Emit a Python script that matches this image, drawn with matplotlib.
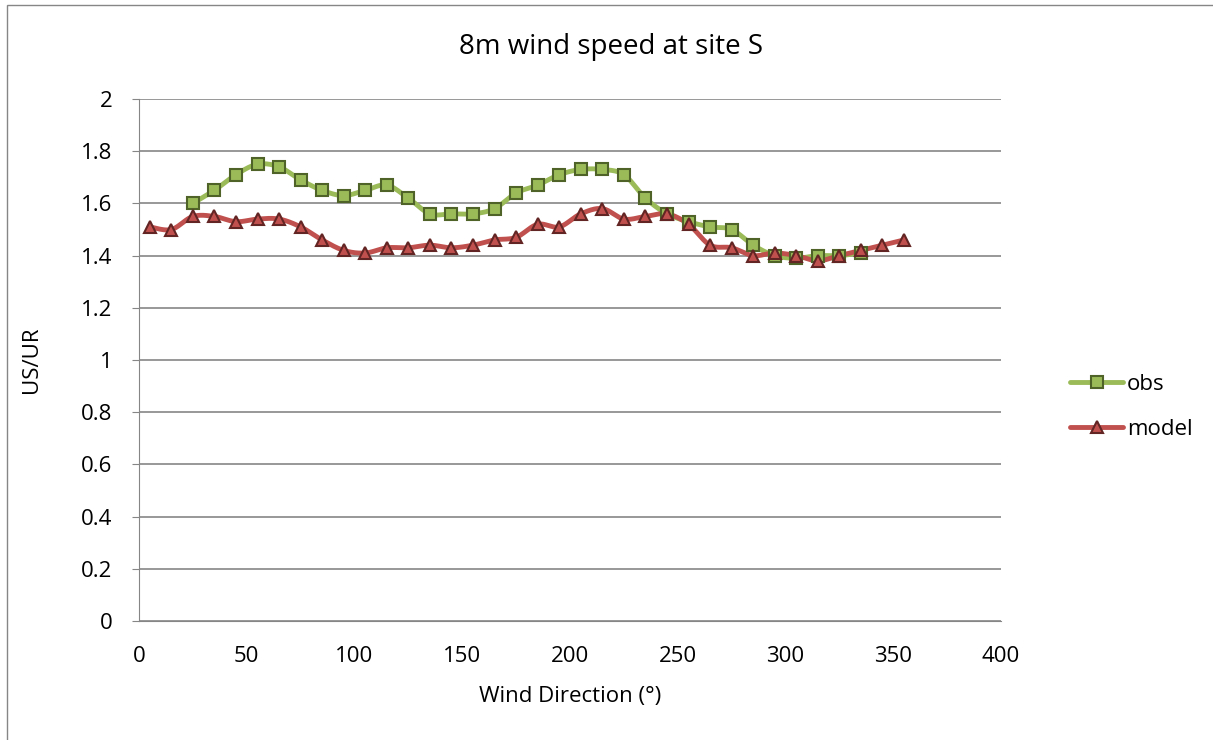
import numpy as np
import matplotlib
matplotlib.use("Agg")
import matplotlib.pyplot as plt
from matplotlib.lines import Line2D

plt.rcParams['font.family'] = ['Open Sans', 'DejaVu Sans']

obs_x = [25, 35, 45, 55, 65, 75, 85, 95, 105, 115, 125, 135, 145, 155, 165, 175,
         185, 195, 205, 215, 225, 235, 245, 255, 265, 275, 285, 295, 305, 315, 325, 335]
obs_y = [1.60, 1.65, 1.71, 1.75, 1.74, 1.69, 1.65, 1.63, 1.65, 1.67, 1.62, 1.56,
         1.56, 1.56, 1.58, 1.64, 1.67, 1.71, 1.73, 1.73, 1.71, 1.62, 1.56, 1.53,
         1.51, 1.50, 1.44, 1.40, 1.39, 1.40, 1.40, 1.41]
model_x = list(range(5, 360, 10))
model_y = [1.51, 1.50, 1.55, 1.55, 1.53, 1.54, 1.54, 1.51, 1.46, 1.42, 1.41, 1.43,
           1.43, 1.44, 1.43, 1.44, 1.46, 1.47, 1.52, 1.51, 1.56, 1.58, 1.54, 1.55,
           1.56, 1.52, 1.44, 1.43, 1.40, 1.41, 1.40, 1.38, 1.40, 1.42, 1.44, 1.46]

title = "8m wind speed at site S"
xlabel = "Wind Direction (°)"
ylabel = "US/UR"


def smooth(x, y, n=20):
    # Catmull-Rom style smoothing for display (like Excel smoothed lines)
    x = np.asarray(x, float); y = np.asarray(y, float)
    px = np.concatenate([[x[0]], x, [x[-1]]])
    py = np.concatenate([[y[0]], y, [y[-1]]])
    xs, ys = [], []
    t = np.linspace(0, 1, n)
    for i in range(1, len(px) - 2):
        p0, p1, p2, p3 = [np.array([px[j], py[j]]) for j in (i - 1, i, i + 1, i + 2)]
        b1 = p1 + (p2 - p0) / 6.0
        b2 = p2 - (p3 - p1) / 6.0
        pts = ((1 - t)[:, None] ** 3 * p1 + 3 * ((1 - t) ** 2 * t)[:, None] * b1
               + 3 * ((1 - t) * t ** 2)[:, None] * b2 + (t ** 3)[:, None] * p2)
        xs.extend(pts[:, 0]); ys.extend(pts[:, 1])
    return xs, ys


fig = plt.figure(figsize=(12.13, 7.40), dpi=100)
ax = fig.add_axes([139 / 1213, 1 - 621 / 740, (1001 - 139) / 1213, (621 - 99) / 740])

green_line = '#9BBB59'
green_edge = '#4F6228'
red_line = '#C0504D'
red_edge = '#632523'

sx, sy = smooth(obs_x, obs_y)
ax.plot(sx, sy, color=green_line, lw=3.5, solid_capstyle='round', zorder=3)
ax.plot(obs_x, obs_y, ls='none', marker='s', ms=9, mfc=green_line, mec=green_edge,
        mew=1.5, zorder=4)
sx, sy = smooth(model_x, model_y)
ax.plot(sx, sy, color=red_line, lw=3.5, solid_capstyle='round', zorder=3)
ax.plot(model_x, model_y, ls='none', marker='^', ms=9, mfc=red_line, mec=red_edge,
        mew=1.5, zorder=5)

ax.set_xlim(0, 400)
ax.set_ylim(0, 2)
ax.set_xticks(np.arange(0, 401, 50))
ax.set_yticks(np.arange(0, 2.01, 0.2))
ax.set_yticklabels(['0', '0.2', '0.4', '0.6', '0.8', '1', '1.2', '1.4', '1.6', '1.8', '2'])
ax.grid(axis='y', color='#868686', lw=1.2)
ax.set_axisbelow(True)
for s in ['top', 'right']:
    ax.spines[s].set_visible(False)
ax.spines['left'].set_color('#868686')
ax.spines['bottom'].set_color('#868686')
ax.tick_params(axis='both', labelsize=16, color='#868686', direction='out')
ax.tick_params(axis='x', length=0, pad=18)
ax.tick_params(axis='y', length=5, pad=14)
fig.text(611 / 1213, 1 - 47 / 740, title, fontsize=20, ha='center', va='center')
ax.set_xlabel(xlabel, fontsize=16, labelpad=14)
ax.set_ylabel(ylabel, fontsize=16, labelpad=28)

handles = [Line2D([0], [0], color=green_line, lw=3.5, marker='s', ms=8, mfc=green_line,
                  mec=green_edge, mew=1.5, solid_capstyle='round'),
           Line2D([0], [0], color=red_line, lw=3.5, marker='^', ms=8, mfc=red_line,
                  mec=red_edge, mew=1.5, solid_capstyle='round')]
fig.legend(handles, ['obs', 'model'], loc='center left', bbox_to_anchor=(1050 / 1213, 1 - 407 / 740),
           frameon=False, fontsize=16, handlelength=2.4, labelspacing=1.1, handletextpad=0.15)

fig.patches.append(plt.Rectangle((0.006, -0.01), 1.0, 1.003, transform=fig.transFigure,
                                 fill=False, ec='#868686', lw=1))

fig.savefig('out.png', dpi=100)
